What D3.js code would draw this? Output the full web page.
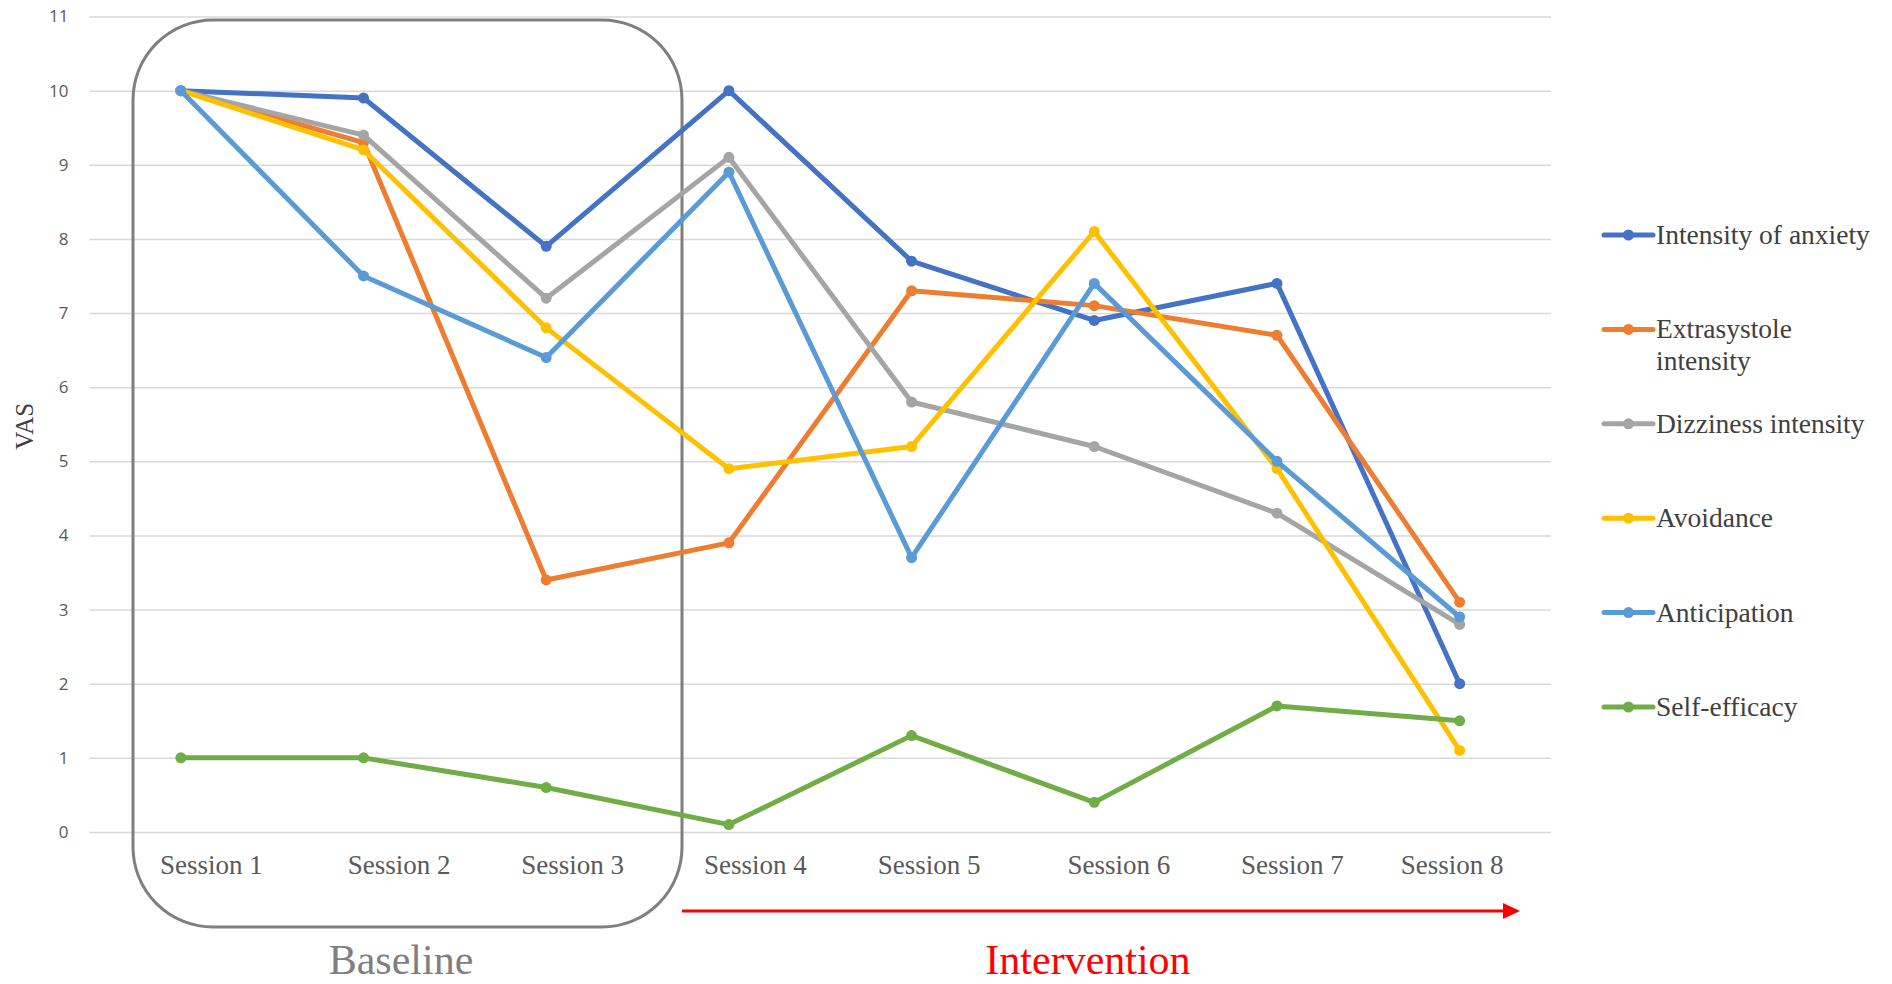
<!DOCTYPE html>
<html>
<head>
<meta charset="utf-8">
<script src="https://cdn.jsdelivr.net/npm/d3@7"></script>
<style>
  body { margin: 0; background: #ffffff; }
  svg { display: block; }
</style>
</head>
<body>
<svg id="chart" width="1892" height="984"></svg>
<script>
// ---------------- data ----------------
const sessions = ["Session 1", "Session 2", "Session 3", "Session 4", "Session 5", "Session 6", "Session 7", "Session 8"];
const yTicks = [0, 1, 2, 3, 4, 5, 6, 7, 8, 9, 10, 11];
const seriesNames = ["Intensity of anxiety", "Extrasystole intensity", "Dizziness intensity", "Avoidance", "Anticipation", "Self-efficacy"];
const anxiety      = [10, 9.9, 7.9, 10, 7.7, 6.9, 7.4, 2.0];
const extrasystole = [10, 9.3, 3.4, 3.9, 7.3, 7.1, 6.7, 3.1];
const dizziness    = [10, 9.4, 7.2, 9.1, 5.8, 5.2, 4.3, 2.8];
const avoidance    = [10, 9.2, 6.8, 4.9, 5.2, 8.1, 4.9, 1.1];
const anticipation = [10, 7.5, 6.4, 8.9, 3.7, 7.4, 5.0, 2.9];
const selfEfficacy = [1.0, 1.0, 0.6, 0.1, 1.3, 0.4, 1.7, 1.5];
const phaseLabels = ["Baseline", "Intervention"];
const yTitle = "VAS";

// ---------------- styles / layout ----------------
const colors = ["#4472C4", "#ED7D31", "#A5A5A5", "#FFC000", "#5B9BD5", "#70AD47"];
const legendLines = [["Intensity of anxiety"], ["Extrasystole", "intensity"], ["Dizziness intensity"], ["Avoidance"], ["Anticipation"], ["Self-efficacy"]];
const tickLabelNudge = [30, 35, 26, 26, 17, 24, 15, -8]; // manual text-box placement in original
const plot = { left: 89.5, right: 1551, top: 16.5, bottom: 832 };
const serif = "'Liberation Serif', 'Times New Roman', serif";
const sans = "'Open Sans', 'Liberation Sans', sans-serif";

const allSeries = [anxiety, extrasystole, dizziness, avoidance, anticipation, selfEfficacy];

const svg = d3.select("#chart");

const x = d3.scalePoint().domain(sessions).range([plot.left, plot.right]).padding(0.5);
const y = d3.scaleLinear().domain([0, 11]).range([plot.bottom, plot.top]);

// gridlines
const grid = svg.append("g").attr("transform", `translate(${plot.left},0)`)
  .call(d3.axisLeft(y).tickValues(yTicks).tickSize(-(plot.right - plot.left)).tickFormat(""));
grid.select(".domain").remove();
grid.selectAll(".tick line").attr("stroke", "#d9d9d9").attr("stroke-width", 1.5);

// y tick labels
const yAxis = svg.append("g").attr("transform", `translate(${plot.left},0)`)
  .call(d3.axisLeft(y).tickValues(yTicks).tickSize(0).tickPadding(21).tickFormat(d3.format("d")));
yAxis.select(".domain").remove();
yAxis.selectAll("text").attr("fill", "#595959").style("font-family", sans).style("font-size", "17px");

// y title
svg.append("text")
  .attr("transform", `translate(33,${(plot.top + plot.bottom) / 2 + 2}) rotate(-90)`)
  .attr("text-anchor", "middle")
  .style("font-family", serif).style("font-size", "25px").attr("fill", "#404040")
  .text(yTitle);

// x labels
const xAxis = svg.append("g").attr("transform", `translate(0,${plot.bottom})`)
  .call(d3.axisBottom(x).tickSize(0));
xAxis.select(".domain").remove();
xAxis.selectAll("text")
  .attr("y", 42).attr("dy", null)
  .attr("dx", (d, i) => tickLabelNudge[i])
  .attr("fill", "#595959")
  .style("font-family", serif).style("font-size", "27px");

// baseline rounded box
svg.append("rect")
  .attr("x", 133).attr("y", 20).attr("width", 549).attr("height", 907)
  .attr("rx", 80).attr("ry", 80)
  .attr("fill", "none").attr("stroke", "#7f7f7f").attr("stroke-width", 3);

// intervention arrow
svg.append("line").attr("x1", 682).attr("x2", 1506).attr("y1", 911).attr("y2", 911)
  .attr("stroke", "#ff0000").attr("stroke-width", 3);
svg.append("path").attr("d", "M1503,903 L1520,911 L1503,919 Z").attr("fill", "#ff0000");

// phase labels
svg.append("text").attr("x", 401).attr("y", 974).attr("text-anchor", "middle")
  .style("font-family", serif).style("font-size", "42px").attr("fill", "#7f7f7f").text(phaseLabels[0]);
svg.append("text").attr("x", 1088).attr("y", 974).attr("text-anchor", "middle")
  .style("font-family", serif).style("font-size", "42px").attr("fill", "#ff0000").text(phaseLabels[1]);

// series lines and markers
const line = d3.line().x((d, i) => x(sessions[i])).y(d => y(d));
allSeries.forEach((vals, si) => {
  const g = svg.append("g");
  g.append("path").datum(vals).attr("d", line)
    .attr("fill", "none").attr("stroke", colors[si]).attr("stroke-width", 5)
    .attr("stroke-linejoin", "round").attr("stroke-linecap", "round");
  g.selectAll("circle").data(vals).join("circle")
    .attr("cx", (d, i) => x(sessions[i])).attr("cy", d => y(d)).attr("r", 5.5)
    .attr("fill", colors[si]);
});

// legend
const legend = svg.append("g");
seriesNames.forEach((name, i) => {
  const ly = 235 + i * 94.4;
  const g = legend.append("g").attr("transform", `translate(0,${ly})`);
  g.append("line").attr("x1", 1604).attr("x2", 1653).attr("y1", 0).attr("y2", 0)
    .attr("stroke", colors[i]).attr("stroke-width", 5).attr("stroke-linecap", "round");
  g.append("circle").attr("cx", 1628.5).attr("cy", 0).attr("r", 5.5).attr("fill", colors[i]);
  const t = g.append("text").attr("x", 1656).attr("y", 9)
    .style("font-family", serif).style("font-size", "27.5px").attr("fill", "#404040");
  legendLines[i].forEach((ln, k) => {
    t.append("tspan").attr("x", 1656).attr("dy", k === 0 ? 0 : 32).text(ln);
  });
});
</script>
</body>
</html>
